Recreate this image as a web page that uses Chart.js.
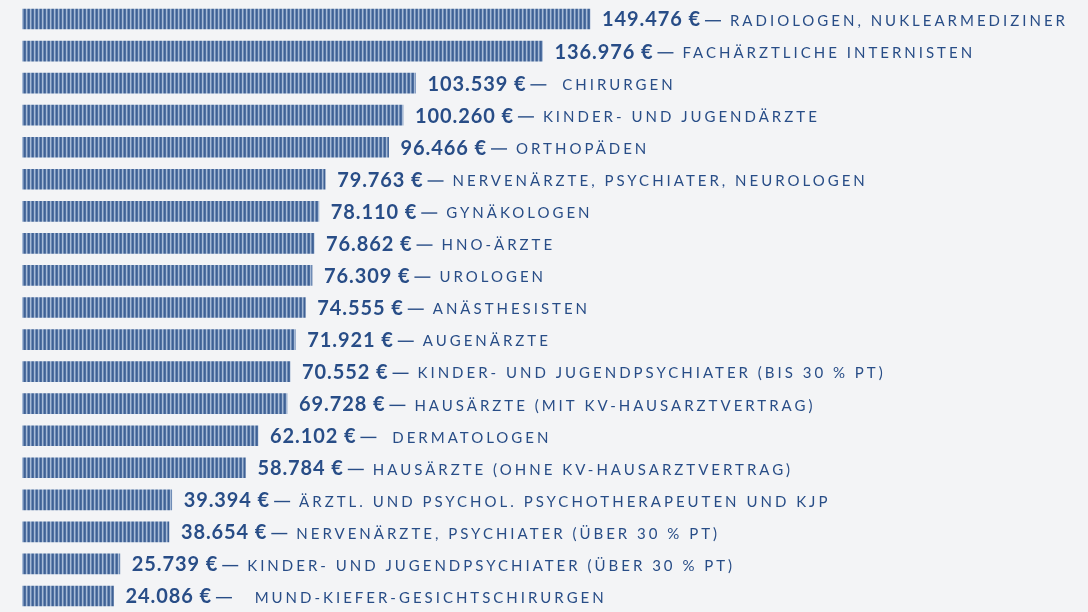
<!DOCTYPE html>
<html>
<head>
<meta charset="utf-8">
<script src="https://cdn.jsdelivr.net/npm/chart.js@4"></script>
<style>
  html, body { margin: 0; padding: 0; background: #f3f4f6; }
  #wrap { width: 1088px; height: 612px; }
</style>
</head>
<body>
<div id="wrap"><canvas id="income"></canvas></div>
<script>
var groups = [
  "Radiologen, Nuklearmediziner",
  "Fachärztliche Internisten",
  " Chirurgen",
  "Kinder- und Jugendärzte",
  "Orthopäden",
  "Nervenärzte, Psychiater, Neurologen",
  "Gynäkologen",
  "HNO-Ärzte",
  "Urologen",
  "Anästhesisten",
  "Augenärzte",
  "Kinder- und Jugendpsychiater (bis 30 % PT)",
  "Hausärzte (mit KV-Hausarztvertrag)",
  " Dermatologen",
  "Hausärzte (ohne KV-Hausarztvertrag)",
  "Ärztl. und psychol. Psychotherapeuten und KJP",
  "Nervenärzte, Psychiater (über 30 % PT)",
  "Kinder- und Jugendpsychiater (über 30 % PT)",
  "  Mund-Kiefer-Gesichtschirurgen"
];

var income = [
  149476, 136976, 103539, 100260, 96466, 79763, 78110, 76862, 76309, 74555,
  71921, 70552, 69728, 62102, 58784, 39394, 38654, 25739, 24086
];

// striped fill like the original
function stripes() {
  var c = document.createElement("canvas");
  c.width = 4; c.height = 4;
  var g = c.getContext("2d");
  var cols = ["#3f6194", "#4f70a1", "#a8bbd6", "#6f8cb6"];
  for (var i = 0; i < 4; i++) {
    g.fillStyle = cols[i];
    g.fillRect(i, 0, 1, 4);
  }
  return g.createPattern(c, "repeat");
}

var textColor = "#284d87";

var barLabels = {
  id: "barLabels",
  afterDatasetsDraw: function (chart) {
    var ctx = chart.ctx;
    var meta = chart.getDatasetMeta(0);
    ctx.save();
    ctx.textBaseline = "middle";
    ctx.fillStyle = textColor;
    meta.data.forEach(function (bar, i) {
      var x = bar.x + 12;
      var y = bar.y + 1;
      var val = income[i].toLocaleString("de-DE") + " €";
      ctx.font = "bold 20px Lato";
      ctx.letterSpacing = "0.9px";
      ctx.fillText(val, x, y);
      x += ctx.measureText(val).width + 4;
      // em dash
      ctx.fillRect(x, y, 16, 1.4);
      x += 16 + 9;
      ctx.font = "15px Lato";
      ctx.letterSpacing = "3px";
      ctx.fillText(groups[i].toUpperCase(), x, y + 1);
    });
    ctx.restore();
  }
};

new Chart(document.getElementById("income"), {
  type: "bar",
  data: {
    labels: groups,
    datasets: [{
      data: income,
      backgroundColor: stripes(),
      borderWidth: 0,
      barThickness: 20
    }]
  },
  options: {
    indexAxis: "y",
    responsive: true,
    maintainAspectRatio: false,
    animation: false,
    layout: { padding: { left: 22, right: 0, top: 3, bottom: 0 } },
    scales: {
      x: { display: false, min: 0, max: 280500 },
      y: { display: false }
    },
    plugins: {
      legend: { display: false },
      tooltip: { enabled: false }
    }
  },
  plugins: [barLabels]
});
</script>
</body>
</html>
